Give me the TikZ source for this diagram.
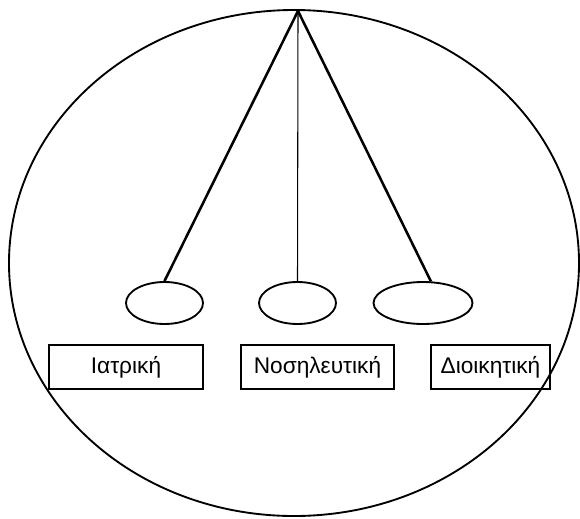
\documentclass[tikz,border=0pt]{standalone}
\usepackage{fontspec}
\setmainfont{Liberation Sans}
\usetikzlibrary{shapes.geometric}
\begin{document}
\begin{tikzpicture}[x=0.75pt,y=-0.75pt,
  outerline/.style={draw, line width=1.4pt},
  pod/.style={draw, ellipse, line width=1.4pt, minimum height=31.5pt, inner sep=0pt},
  labelbox/.style={draw, rectangle, line width=1.4pt, minimum height=33pt, inner sep=0pt, font=\fontsize{17}{20}\selectfont},
  thickline/.style={line width=1.9pt},
  thinline/.style={line width=0.8pt}]
\useasboundingbox (0,0) rectangle (580,518);
\draw[outerline] (294,263) ellipse [x radius=285, y radius=253];
\coordinate (apex) at (298,11);
\node[pod, minimum width=57.75pt] (e1) at (164.5,303) {};
\node[pod, minimum width=57.75pt] (e2) at (297.5,303) {};
\node[pod, minimum width=74.25pt] (e3) at (423,303) {};
\node[labelbox, minimum width=115.5pt] (b1) at (126,367) {Ιατρική};
\node[labelbox, minimum width=114.75pt] (b2) at (317.5,367) {Νοσηλευτική};
\node[labelbox, minimum width=89.25pt] (b3) at (490.5,367) {Διοικητική};
\draw[thickline] (apex) -- (e1.north);
\draw[thinline] (apex) -- (e2.north);
\draw[thickline] (apex) -- (e3.70);
\end{tikzpicture}
\end{document}
